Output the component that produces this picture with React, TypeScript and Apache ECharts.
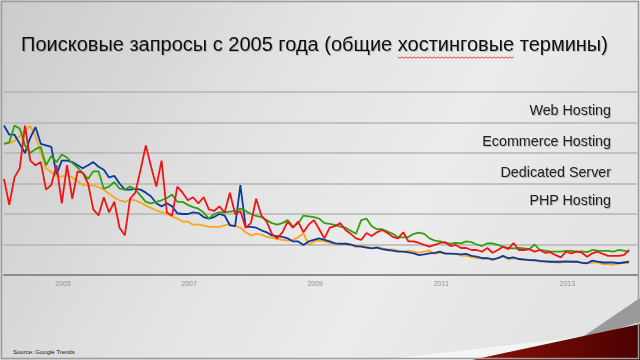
import React, { useEffect, useRef } from "react";
import * as echarts from "echarts";

const TITLE_PREFIX = "Поисковые запросы с 2005 года (общие ";
const TITLE_WORD = "хостинговые";
const TITLE = TITLE_PREFIX + TITLE_WORD + " термины)";
const SOURCE = "Source: Google Trends";
const LABELS = ["Web Hosting", "Ecommerce Hosting", "Dedicated Server", "PHP Hosting"];
const START_YEAR = 2004;
const YEAR_TICKS = [2005, 2007, 2009, 2011, 2013];

// monthly values, Jan 2004 .. Dec 2013 (Google Trends index)
const webHosting = [
  98, 92, 92, 86, 80, 90, 97, 86, 85, 84,
  66, 75, 75, 74, 72, 70, 72, 74, 71, 69,
  64, 65, 60, 56, 56, 56.5, 56, 54, 51.5, 47,
  45, 47, 45, 40.5, 40, 40, 41, 40.6, 38, 37,
  38, 40, 39, 32.6, 32, 59, 31.5, 31.5, 31, 29.3,
  28, 26, 25.5, 25, 24, 22, 22, 19.7, 22, 23,
  24, 23, 22, 20.8, 20.5, 20.5, 20, 19, 18.6, 18,
  17.5, 18, 17, 16.4, 16, 15.3, 15.3, 14.8, 14.2, 13,
  13.5, 14.2, 14.5, 15.3, 14, 14, 13.8, 13.5, 13.8, 12.5,
  12, 11, 11, 10.3, 11, 12.5, 11, 11.6, 10.5, 10.3,
  9.8, 9.8, 9.2, 9, 8.7, 8.7, 8.7, 9, 8.7, 8.7,
  8, 7.7, 9.4, 8.7, 8.2, 8.2, 8.2, 7.7, 8.2, 8.7,
];
const ecommerceHosting = [
  63, 46, 64, 70, 98, 75, 72, 74, 56, 59, 72, 47, 72, 50, 68, 67, 60,
  43, 39, 51, 41, 48, 31, 26, 50, 54, 69, 85, 71, 58, 75, 41, 39, 58,
  54, 49, 51, 47, 51, 43, 42, 45, 41, 54, 40, 42, 31, 34, 50, 39, 35, 27,
  24, 28, 35, 31, 35, 28, 33, 36, 30, 24, 31, 32, 34, 29.5, 27, 24, 23,
  27.5, 25.6, 28, 29.5, 27.5, 25, 24, 28, 22, 22, 21, 19.7, 18.6, 19.7, 21, 21.5, 19,
  19.7, 17.7, 17.7, 16.4, 16.4, 15.3, 17.7, 14.6, 16.4, 18.6, 17, 21, 16.4, 16.4, 17, 15.3, 16.4,
  14.6, 15, 13, 11.6, 15.3, 14.2, 15.3, 14.6, 12, 14.2, 15.3, 13.8, 12.5, 12.5, 12.5, 13, 16.4,
];
const dedicatedServer = [
  86, 87, 98, 96, 85, 80, 82.5, 84, 72, 78,
  74, 79, 77, 73.5, 70.5, 67, 63, 68, 68, 56.6,
  58, 61, 56.6, 56, 58, 56, 52, 48, 47, 48,
  49, 50.5, 52.7, 48, 48, 46, 44.5, 43.5, 41, 37,
  40, 41, 41, 41.5, 42, 43.5, 42, 40, 38.7, 38,
  36, 34, 33, 34, 36, 31.7, 34, 39, 38.5, 38,
  37, 34, 33.5, 32.8, 31.7, 31, 29, 27, 36, 37,
  32, 30, 30, 28.4, 27, 24.7, 24.7, 25, 27, 27.8,
  27, 24, 22.5, 22, 21, 20.5, 21, 20.8, 22, 21.5,
  20, 19, 20.8, 20.8, 19.7, 18.6, 17.7, 17.5, 17.7, 17.5,
  17, 20, 16.4, 16, 15.5, 15.3, 15.3, 15.8, 15.8, 15.3,
  15.5, 15, 16.4, 16, 15.8, 15.8, 15.3, 16.4, 16, 15.3,
];
const phpHosting = [
  86, 86.5, 88, 91, 95, 97.7, 91, 80, 70, 67.5,
  64.8, 64.5, 65.5, 64, 61.5, 59, 58.8, 58.8, 57.7, 56,
  53.3, 50.8, 49, 47.9, 49.5, 49, 47.5, 45.5, 44, 42.3,
  41.3, 40, 38.3, 37, 35, 35, 33, 33, 32.6, 31.5,
  31.5, 31.5, 32.5, 33.3, 32, 31, 28, 26, 27, 26.5,
  25, 24.5, 23.5, 23, 22.5, 23, 24.7, 27.3, 19.7, 22,
  22.5, 22, 21, 20.8, 20, 20.5, 19.7, 18.5, 19.4, 18.6,
  17.7, 18.2, 17.5, 16.8, 16.8, 16, 15.3, 16, 15.3, 14.6,
  15.3, 16, 13.8, 14.6, 14.2, 14, 13.8, 12.8, 12.5, 11.8,
  11, 11, 11, 9.8, 11, 12, 10.3, 11, 10.3, 9.8,
  9.8, 9.4, 8.7, 9, 8.7, 8.2, 8.2, 8.7, 8.7, 9,
  8.2, 7.7, 8.2, 8.2, 7.2, 7.2, 6.6, 7.7, 8.2, 7.7,
];

const COLORS = {
  web: "#0b3aa0",
  ecom: "#ee1515",
  ded: "#33a010",
  php: "#f8a71f",
};

const toPairs = (arr: number[]) => arr.map((v, i) => [i, v]);

export default function App() {
  const ref = useRef<HTMLDivElement>(null);
  useEffect(() => {
    document.body.style.margin = "0";
    const chart = echarts.init(ref.current!, null, { renderer: "svg" });

    // measure where the misspelled word sits in the title, for its wavy underline
    const TITLE_FONT = '20px "Liberation Sans"';
    const TITLE_X = 21;
    let wordStart = 395;
    let wordWidth = 113;
    try {
      const ctx = document.createElement("canvas").getContext("2d");
      if (ctx) {
        ctx.font = TITLE_FONT;
        wordStart = TITLE_X + ctx.measureText(TITLE_PREFIX).width;
        wordWidth = ctx.measureText(TITLE_WORD).width;
      }
    } catch (e) {}
    const wave: number[][] = [];
    for (let x = 0; x <= wordWidth; x += 2) {
      wave.push([wordStart + x, 57 + ((x / 2) % 2 === 0 ? 0 : 1.2)]);
    }

    const lineSeries = (name: string, data: number[], color: string, z: number) => ({
      name,
      type: "line",
      data: toPairs(data),
      symbol: "none",
      z,
      lineStyle: { color, width: 1.8 },
      itemStyle: { color },
    });
    const legendY = [110, 141, 172, 200];
    chart.setOption({
      animation: false,
      backgroundColor: new echarts.graphic.LinearGradient(0, 0, 1, 0.3, [
        { offset: 0, color: "#cbcbcb" },
        { offset: 0.45, color: "#e2e2e2" },
        { offset: 0.75, color: "#ececec" },
        { offset: 1, color: "#e4e4e4" },
      ]),
      grid: { left: 4, right: 0, top: 92, bottom: 85 },
      xAxis: {
        type: "value",
        min: 0,
        max: 120.5,
        interval: 12,
        axisLine: { show: true, lineStyle: { color: "#8c8c8c", width: 2 } },
        axisTick: { show: false },
        splitLine: { show: false },
        axisLabel: {
          color: "#939393",
          fontSize: 7,
          fontFamily: "Liberation Sans",
          margin: 5,
          padding: [0, 8, 0, 0],
          formatter: (v: number) => {
            const y = START_YEAR + v / 12;
            return YEAR_TICKS.includes(y) ? String(y) : "";
          },
        },
      },
      yAxis: {
        type: "value",
        min: 0,
        max: 120,
        interval: 20,
        axisLine: { show: false },
        axisTick: { show: false },
        axisLabel: { show: false },
        splitLine: { show: true, lineStyle: { color: "#b4b4b4", width: 1.5 } },
      },
      series: [
        lineSeries(LABELS[3], phpHosting, COLORS.php, 2),
        lineSeries(LABELS[0], webHosting, COLORS.web, 3),
        lineSeries(LABELS[2], dedicatedServer, COLORS.ded, 4),
        lineSeries(LABELS[1], ecommerceHosting, COLORS.ecom, 5),
      ],
      graphic: [
        {
          type: "polygon",
          silent: true,
          z: 1,
          shape: { points: [[380, 360], [640, 330], [640, 360]] },
          style: { fill: "rgba(255,255,255,0.6)" },
        },
        {
          type: "polygon",
          silent: true,
          z: 2,
          shape: { points: [[575, 342], [640, 298], [640, 322]] },
          style: { fill: "#9a9a9a" },
        },
        {
          type: "polygon",
          silent: true,
          z: 3,
          shape: { points: [[472, 360], [640, 324], [640, 360]] },
          style: {
            fill: new echarts.graphic.LinearGradient(0, 0, 1, 0, [
              { offset: 0, color: "#8a1208" },
              { offset: 1, color: "#4a0000" },
            ]),
          },
        },
        {
          type: "rect",
          silent: true,
          z: 10,
          shape: { x: 1.5, y: 1.5, width: 637, height: 357 },
          style: { fill: "none", stroke: "#9c9c9c", lineWidth: 1.5 },
        },
        {
          type: "text",
          z: 10,
          x: TITLE_X,
          y: 44,
          style: {
            text: TITLE,
            font: TITLE_FONT,
            fontFamily: "Liberation Sans",
            fontSize: 20,
            fill: "#111",
            textVerticalAlign: "middle",
            textShadowColor: "rgba(0,0,0,0.2)",
            textShadowBlur: 1,
            textShadowOffsetX: 1,
            textShadowOffsetY: 1,
          },
        },
        {
          type: "polyline",
          silent: true,
          z: 10,
          shape: { points: wave },
          style: { stroke: "#e02020", lineWidth: 0.8, fill: "none" },
        },
        ...LABELS.map((t, k) => ({
          type: "text",
          z: 10,
          x: 611,
          y: legendY[k],
          style: {
            text: t,
            fontFamily: "Liberation Sans",
            fontSize: 14.3,
            fill: "#222",
            textAlign: "right",
            textVerticalAlign: "middle",
            textShadowColor: "rgba(0,0,0,0.2)",
            textShadowBlur: 1,
            textShadowOffsetX: 1,
            textShadowOffsetY: 1,
          },
        })),
        {
          type: "text",
          z: 10,
          x: 13,
          y: 352,
          style: {
            text: SOURCE,
            fontFamily: "Liberation Sans",
            fontSize: 6,
            fill: "#222",
            textVerticalAlign: "middle",
          },
        },
      ],
    });
    return () => chart.dispose();
  }, []);
  return <div ref={ref} style={{ width: 640, height: 360 }} />;
}
